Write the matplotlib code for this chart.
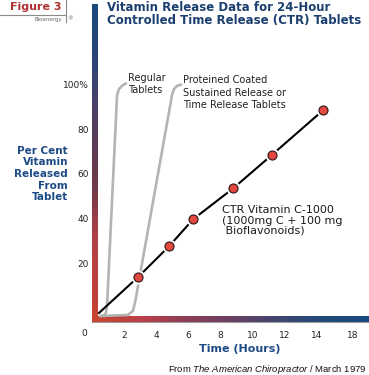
import matplotlib
matplotlib.use("Agg")
import matplotlib.pyplot as plt
import numpy as np
from matplotlib.colors import LinearSegmentedColormap

# ---------------- data ----------------
ctr_hours = [2.9, 4.8, 6.3, 8.8, 11.2, 14.4]
ctr_percent = [14.0, 27.6, 39.7, 53.6, 68.5, 88.6]
ctr_start_hour = 0.45
ctr_start_percent = -2.2

regular_hours = [0.51, 0.76, 0.88, 0.95, 1.57, 1.69, 1.94, 2.13]
regular_percent = [-3.6, -3.4, -2.2, 1.3, 95.3, 98.0, 99.8, 100.5]

coated_hours = [0.51, 2.25, 2.56, 2.72, 4.99, 5.11, 5.30, 5.55]
coated_percent = [-3.6, -3.1, -1.3, 3.6, 95.3, 98.0, 99.4, 100.0]

x_ticks = [2, 4, 6, 8, 10, 12, 14, 16.2]
x_tick_labels = ["2", "4", "6", "8", "10", "12", "14", "18"]
y_ticks = [20, 40, 60, 80, 100]
y_tick_labels = ["20", "40", "60", "80", "100%"]

# ---------------- layout ----------------
W, H = 369, 375
plt.rcParams['mathtext.fontset'] = 'custom'
plt.rcParams['mathtext.rm'] = 'Liberation Sans'
plt.rcParams['mathtext.it'] = 'Liberation Sans:italic'

fig = plt.figure(figsize=(W / 100, H / 100), dpi=100)
fig.patch.set_facecolor('white')

PX_PER_HOUR = 16.08
PX_PER_PCT = 2.2345
x0_px, y0_px = 91.8, 308.0   # pixel position of (0 h, 0 %)
ax_left, ax_right, ax_top, ax_bottom = 91.8, 369.0, 4.0, 323.0
ax = fig.add_axes([ax_left / W, (H - ax_bottom) / H,
                   (ax_right - ax_left) / W, (ax_bottom - ax_top) / H])
xmin, xmax = 0.0, (ax_right - x0_px) / PX_PER_HOUR
ymin, ymax = (y0_px - ax_bottom) / PX_PER_PCT, (y0_px - ax_top) / PX_PER_PCT

for s in ax.spines.values():
    s.set_visible(False)
ax.set_facecolor('white')

# gradient frame bars
vert_cmap = LinearSegmentedColormap.from_list('v', [
    (0.00, '#c9472e'), (0.07, '#c2403a'), (0.28, '#b04046'),
    (0.42, '#703a48'), (0.56, '#5c3a56'), (0.70, '#48406c'),
    (0.82, '#2c4677'), (1.00, '#1a497c')])
horz_cmap = LinearSegmentedColormap.from_list('h', [
    (0.00, '#c9472e'), (0.18, '#bb404a'), (0.33, '#8e3e56'),
    (0.50, '#6a4064'), (0.68, '#3e4670'), (0.84, '#1f4a7a'),
    (1.00, '#1a4a7c')])
grad = np.linspace(0, 1, 256)
bar_w = 6 / PX_PER_HOUR
bar_h = 7 / PX_PER_PCT
ax.imshow(grad[:, None], cmap=vert_cmap, origin='lower', aspect='auto',
          extent=[xmin, xmin + bar_w, ymin, ymax], zorder=1)
ax.imshow(grad[None, :], cmap=horz_cmap, origin='lower', aspect='auto',
          extent=[xmin, xmax, ymin, ymin + bar_h], zorder=1)
ax.plot([xmin, xmax], [ymin + 0.25, ymin + 0.25], color='#9a9a9a', lw=0.8,
        zorder=2, solid_capstyle='butt')

# release curves
ax.plot(regular_hours, regular_percent, color='#b4b4b4', lw=1.9,
        solid_joinstyle='round', solid_capstyle='round', zorder=3)
ax.plot(coated_hours, coated_percent, color='#b4b4b4', lw=1.9,
        solid_joinstyle='round', solid_capstyle='round', zorder=3)
ax.plot([ctr_start_hour] + ctr_hours, [ctr_start_percent] + ctr_percent,
        color='black', lw=1.5, zorder=4)
ax.plot(ctr_hours, ctr_percent, 'o', ms=9, mfc='white', mec='white', zorder=5)
ax.plot(ctr_hours, ctr_percent, 'o', ms=6.5, mfc='#e3473f', mec='#2a1616',
        mew=0.8, zorder=6)

ax.set_xlim(xmin, xmax)
ax.set_ylim(ymin, ymax)
ax.set_xticks(x_ticks)
ax.set_xticklabels(x_tick_labels)
ax.set_yticks(y_ticks)
ax.set_yticklabels(y_tick_labels)
ax.tick_params(axis='both', length=0, labelsize=6.5, labelcolor='#222222')
ax.tick_params(axis='x', pad=5.4)
ax.tick_params(axis='y', pad=2.0)


def fx(x):
    return x / W


def fy(y):
    return 1 - y / H


# corner zero
fig.text(fx(84), fy(334), "0", fontsize=6.5, color='#222222', ha='center', va='center')

# annotations
ax_text_kw = dict(fontsize=7, color='#222222', ha='left', va='center',
                  linespacing=1.35)
fig.text(fx(128), fy(84), "Regular\nTablets", **ax_text_kw)
fig.text(fx(183), fy(92.5), "Proteined Coated\nSustained Release or\nTime Release Tablets",
         **ax_text_kw)
fig.text(fx(222), fy(220.5), "CTR Vitamin C-1000\n(1000mg C + 100 mg\n Bioflavonoids)",
         fontsize=8, color='#1a1a1a', ha='left', va='center', linespacing=1.05)

# axis titles
blue = '#1d4b85'
fig.text(fx(68), fy(174), "Per Cent\nVitamin\nReleased\nFrom\nTablet",
         fontsize=7.5, fontweight='bold', color=blue, ha='right', va='center',
         linespacing=1.2)
fig.text(fx(240), fy(349), "Time (Hours)", fontsize=8, fontweight='bold',
         color=blue, ha='center', va='center')

# title
fig.text(fx(107), fy(14), "Vitamin Release Data for 24-Hour\nControlled Time Release (CTR) Tablets",
         fontsize=8.5, fontweight='bold', color='#1b3f6e', ha='left', va='center',
         linespacing=1.0)

# figure label
fig.text(fx(36), fy(7), "Figure 3", fontsize=8, fontweight='bold', color='#b03232',
         ha='center', va='center')
fig.add_artist(plt.Line2D([0, fx(65)], [fy(14.5), fy(14.5)], color='#8a8a8a', lw=0.8))
fig.add_artist(plt.Line2D([fx(65.5), fx(65.5)], [fy(0), fy(22)], color='#8a8a8a', lw=0.8))
fig.text(fx(62), fy(19.5), "Bioenergy", fontsize=4, color='#666666', ha='right', va='center')
fig.text(fx(67.5), fy(18.5), "®", fontsize=4, color='#666666', ha='left', va='center')

# source
fig.text(fx(367), fy(370), r"From $\mathit{The\ American\ Chiropractor}$ / March 1979",
         fontsize=6.8, family='Liberation Sans', color='#111111', ha='right', va='center')

fig.savefig("out.png", dpi=100, facecolor='white')
